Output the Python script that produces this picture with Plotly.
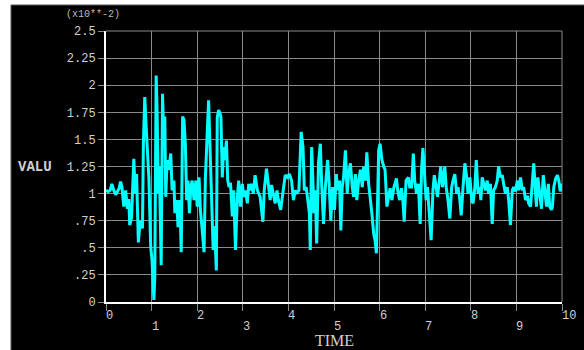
import plotly.graph_objects as go

# ---- data (values in units of 1e-2) ----
time = [
    0.00, 0.05, 0.09, 0.13, 0.17, 0.21, 0.25, 0.29, 0.32, 0.35, 0.39, 0.43, 0.47, 0.50,
    0.52, 0.56, 0.61, 0.64, 0.67, 0.71, 0.75, 0.80, 0.82, 0.85, 0.88, 0.90, 0.94, 0.98,
    1.01, 1.05, 1.07, 1.10, 1.12, 1.15, 1.17, 1.21, 1.24, 1.27, 1.29, 1.31, 1.34, 1.38,
    1.42, 1.45, 1.49, 1.51, 1.55, 1.58, 1.62, 1.65, 1.68, 1.71, 1.74, 1.77, 1.80, 1.83,
    1.86, 1.89, 1.93, 1.97, 2.00, 2.04, 2.07, 2.11, 2.15, 2.18, 2.22, 2.25, 2.29, 2.32,
    2.35, 2.38, 2.42, 2.44, 2.47, 2.50, 2.52, 2.55, 2.58, 2.61, 2.64, 2.67, 2.70, 2.73,
    2.77, 2.80, 2.84, 2.88, 2.91, 2.95, 2.99, 3.02, 3.06, 3.10, 3.13,
    3.16, 3.19, 3.23, 3.27, 3.32, 3.38, 3.44, 3.47, 3.52, 3.56, 3.60, 3.63, 3.67, 3.71,
    3.75, 3.78, 3.83, 3.87, 3.93, 3.98, 4.02, 4.07, 4.11, 4.15, 4.18, 4.23, 4.28, 4.32,
    4.35, 4.39, 4.42, 4.46, 4.48, 4.51, 4.54, 4.56, 4.59, 4.62, 4.66, 4.70, 4.73, 4.77,
    4.81, 4.86, 4.89, 4.93, 4.97, 5.01, 5.05, 5.08, 5.12, 5.15, 5.18, 5.21, 5.25, 5.29,
    5.32, 5.36, 5.40, 5.43, 5.47, 5.50, 5.54, 5.58, 5.62, 5.65, 5.69, 5.72, 5.76, 5.79,
    5.83, 5.87, 5.90, 5.93, 5.96, 5.98, 6.01, 6.05, 6.09, 6.12, 6.16, 6.20, 6.23, 6.27,
    6.31, 6.37, 6.40, 6.44,
    6.48, 6.51, 6.54, 6.58, 6.63, 6.66, 6.70, 6.74, 6.77, 6.81, 6.85, 6.89, 6.92, 6.95,
    6.98, 7.02, 7.05, 7.09, 7.13, 7.17, 7.20, 7.24, 7.27, 7.31, 7.34, 7.38, 7.43, 7.46,
    7.50, 7.54, 7.58, 7.61, 7.65, 7.69, 7.72, 7.76, 7.79, 7.83, 7.87, 7.91, 7.94, 7.98,
    8.02, 8.05, 8.09, 8.12, 8.16, 8.20, 8.22, 8.25, 8.28, 8.32, 8.36, 8.39, 8.43, 8.47,
    8.50, 8.54, 8.58, 8.61, 8.65, 8.69, 8.72, 8.76, 8.80, 8.83, 8.87, 8.91, 8.94, 8.98,
    9.02, 9.05, 9.09, 9.13, 9.16, 9.20, 9.24, 9.27, 9.31, 9.34, 9.38, 9.42, 9.44, 9.47,
    9.51, 9.55, 9.59, 9.62, 9.66, 9.70, 9.73, 9.77, 9.79, 9.82, 9.86, 9.90, 9.93, 9.96,
    9.99, 10.00,
]
valu = [
    1.03, 1.02, 1.03, 1.09, 1.03, 0.99, 1.02, 1.05, 1.11, 1.06, 0.88, 1.03, 0.86, 0.95,
    0.71, 0.78, 1.32, 1.00, 1.18, 0.55, 0.75, 0.68, 1.46, 1.89, 1.62, 1.49, 1.15, 0.51,
    0.38, 0.02, 0.23, 2.09, 1.77, 1.00, 1.25, 0.34, 1.92, 1.46, 1.71, 0.97, 1.31, 1.22,
    1.37, 1.03, 1.12, 0.82, 0.94, 0.69, 0.94, 0.46, 1.71, 1.68, 1.46, 0.94, 1.12, 0.82,
    1.06, 1.12, 0.94, 1.12, 0.88, 1.15, 0.85, 0.66, 0.46, 1.15, 1.49, 1.86, 1.31, 0.75,
    0.48, 0.70, 0.29, 1.70, 1.77, 1.74, 1.71, 1.15, 1.43, 1.31, 1.49, 1.12, 1.06, 1.10,
    0.79, 1.03, 0.48, 0.97, 1.12, 0.88, 1.09, 0.97, 1.03, 0.91, 1.09,
    1.03, 1.09, 1.00, 1.17, 1.03, 0.97, 0.74, 1.03, 1.23, 1.09, 0.94, 1.08, 1.00, 0.91,
    1.03, 0.94, 0.85, 0.97, 1.17, 1.15, 1.18, 1.12, 0.94, 1.03, 1.00, 1.03, 1.57, 1.43,
    1.03, 1.06, 0.94, 0.82, 0.48, 1.43, 1.09, 0.82, 1.03, 0.54, 1.28, 1.46, 1.09, 0.72,
    1.06, 1.31, 1.12, 0.75, 1.06, 0.85, 1.18, 1.03, 1.12, 0.66, 1.06, 1.15, 1.40, 1.00,
    1.18, 1.28, 1.06, 0.97, 1.18, 0.94, 1.12, 1.22, 1.06, 1.25, 1.12, 1.38, 1.09, 0.94,
    0.82, 0.63, 0.57, 0.45, 0.88, 1.40, 1.46, 1.31, 1.25, 1.22, 0.88, 0.97, 1.05, 0.94,
    1.05, 1.14, 1.02, 0.94,
    1.05, 0.94, 0.74, 1.12, 1.15, 1.06, 1.06, 1.37, 1.12, 1.00, 1.09, 0.72, 1.22, 1.42,
    1.18, 0.94, 1.06, 0.82, 0.57, 1.03, 1.17, 1.06, 0.97, 1.12, 1.25, 1.06, 1.25, 1.06,
    0.94, 0.77, 1.06, 1.12, 1.18, 1.00, 1.06, 0.94, 0.80, 1.06, 1.28, 1.15, 1.00, 1.15,
    0.94, 0.91, 1.06, 1.31, 1.00, 1.06, 0.94, 1.15, 1.09, 1.03, 1.12, 1.00, 1.09, 0.72,
    1.03, 1.06, 1.12, 1.25, 1.15, 1.17, 1.09, 1.00, 1.06, 0.94, 0.71, 1.03, 1.06, 1.02,
    1.12, 1.03, 1.15, 1.03, 1.06, 0.94, 0.98, 0.91, 0.88, 1.06, 1.28, 1.00, 0.88, 1.15,
    0.97, 0.86, 1.17, 1.06, 0.88, 1.09, 0.88, 0.85, 0.88, 1.06, 1.14, 1.17, 1.12, 1.02,
    1.09, 1.06,
]

x_tick_vals = [0, 1, 2, 3, 4, 5, 6, 7, 8, 9, 10]
x_tick_text = ["0", "1", "2", "3", "4", "5", "6", "7", "8", "9", "10"]
y_tick_vals = [0, 0.25, 0.5, 0.75, 1, 1.25, 1.5, 1.75, 2, 2.25, 2.5]
y_tick_text = ["0", ".25", ".5", ".75", "1", "1.25", "1.5", "1.75", "2", "2.25", "2.5"]

x_title = "TIME"
y_title = "VALU"
scale_note = "(x10**-2)"

GRID = "#8a8a8a"
TXT = "#d0d0d0"
MONO = "Liberation Mono, DejaVu Sans Mono, monospace"

fig = go.Figure()
fig.add_trace(go.Scatter(
    x=time, y=valu, mode="lines",
    line=dict(color="#00ffff", width=3),
    hoverinfo="skip", showlegend=False,
))

W, H = 584, 350
L, R, T, B = 106, 22, 31, 48
pw, ph = W - L - R, H - T - B

def px_x(p):
    return (p - L) / pw

def px_y(p):
    return (H - B - p) / ph

shapes = [
    # black panel (leaves white strip at top and left)
    dict(type="rect", xref="paper", yref="paper", layer="below",
         x0=px_x(11), x1=px_x(590), y0=px_y(356), y1=px_y(5),
         fillcolor="black", line=dict(color="#555555", width=1)),
    # top & right frame (gray, like grid)
    dict(type="line", xref="paper", yref="paper", layer="below",
         x0=0, x1=1, y0=1, y1=1, line=dict(color=GRID, width=1)),
    dict(type="line", xref="paper", yref="paper", layer="below",
         x0=1, x1=1, y0=0, y1=1, line=dict(color=GRID, width=1)),
]

annotations = []
for i, (v, t) in enumerate(zip(x_tick_vals, x_tick_text)):
    annotations.append(dict(
        x=v, y=0, xref="x", yref="paper", text=t, showarrow=False,
        xanchor="left", yanchor="middle", xshift=-1, borderpad=0,
        yshift=-14 if i % 2 == 0 else -24.5,
        font=dict(family=MONO, size=12, color=TXT),
    ))
annotations.append(dict(
    x=5, y=0, xref="x", yref="paper", text=x_title, showarrow=False,
    xanchor="center", yanchor="middle", yshift=-38.5, borderpad=0,
    font=dict(family="Liberation Serif, serif", size=16, color=TXT),
))
annotations.append(dict(
    x=px_x(35), y=px_y(167), xref="paper", yref="paper", text="<b>" + y_title + "</b>",
    showarrow=False, xanchor="center", yanchor="middle",
    font=dict(family=MONO, size=14, color=TXT),
))
annotations.append(dict(
    x=px_x(93), y=px_y(15), xref="paper", yref="paper", text=scale_note,
    showarrow=False, xanchor="center", yanchor="middle",
    font=dict(family=MONO, size=10, color="#b8b8b8"),
))

fig.update_layout(
    width=W, height=H,
    margin=dict(l=L, r=R, t=T, b=B, pad=0, autoexpand=False),
    paper_bgcolor="white",
    plot_bgcolor="black",
    shapes=shapes,
    annotations=annotations,
    showlegend=False,
    hovermode=False,
    xaxis=dict(
        range=[0, 10], tickvals=x_tick_vals, showticklabels=False,
        showgrid=True, gridcolor=GRID, gridwidth=1, zeroline=False,
        showline=True, linecolor="white", linewidth=2,
        ticks="outside", ticklen=7, tickcolor=GRID, tickwidth=1,
        automargin=False,
    ),
    yaxis=dict(
        range=[0, 2.5], tickvals=y_tick_vals, ticktext=y_tick_text,
        showgrid=True, gridcolor=GRID, gridwidth=1, zeroline=False,
        showline=True, linecolor="white", linewidth=2,
        ticks="outside", ticklen=6, tickcolor=GRID, tickwidth=1,
        tickfont=dict(family=MONO, size=12, color=TXT),
        automargin=False,
    ),
)

fig.write_html(
    "out.html",
    config={"displayModeBar": False},
    post_script="document.body.style.margin='0';document.body.style.padding='0';",
)
